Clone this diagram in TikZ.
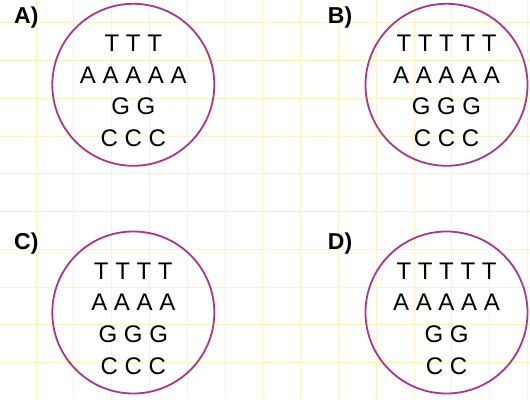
\documentclass[tikz,border=0pt]{standalone}
\usepackage{fontspec}
\setmainfont{Liberation Sans}
\definecolor{gridy}{HTML}{FFF3C4}
\definecolor{ringc}{HTML}{A8388F}
\tikzset{
  ring/.style={draw=ringc, line width=1.8pt},
  row/.style={anchor=base, inner sep=0pt, font=\fontsize{24}{24}\selectfont},
  lbl/.style={anchor=base west, inner sep=0pt, font=\fontsize{23}{23}\selectfont\bfseries},
}
\begin{document}
\begin{tikzpicture}[x=1pt,y=1pt]
\useasboundingbox (0,0) rectangle (530,399);
\fill[white] (0,0) rectangle (530,399);
\foreach \k in {0,...,13} {
  \draw[gridy, line width=1pt] ({36+37.8*\k},0) -- ({36+37.8*\k},399);
}
\foreach \k in {0,...,10} {
  \draw[gridy, line width=1pt] (0,{399-23-37.75*\k}) -- (530,{399-23-37.75*\k});
}
% circles
\node[ring, circle, minimum size=162pt, inner sep=0pt] (ca) at (133.3,314.2) {};
\node[ring, circle, minimum size=162pt, inner sep=0pt] (cb) at (446.5,314.2) {};
\node[ring, circle, minimum size=162pt, inner sep=0pt] (cc) at (133.3,86.5) {};
\node[ring, circle, minimum size=162pt, inner sep=0pt] (cd) at (446.5,86.5) {};
% labels
\node[lbl] (la) at (14,375.7) {A)};
\node[lbl] (lb) at (327.7,375.7) {B)};
\node[lbl] (lc) at (14,149) {C)};
\node[lbl] (ld) at (327.7,149) {D)};
% A
\node[row] (a1) at ([yshift=33.1pt]ca.center) {T T T};
\node[row] (a2) at ([yshift=1.5pt]ca.center) {A A A A A};
\node[row] (a3) at ([yshift=-30.2pt]ca.center) {G G};
\node[row] (a4) at ([yshift=-61.9pt]ca.center) {C C C};
% B
\node[row] (b1) at ([yshift=33.1pt]cb.center) {T T T T T};
\node[row] (b2) at ([yshift=1.5pt]cb.center) {A A A A A};
\node[row] (b3) at ([yshift=-30.2pt]cb.center) {G G G};
\node[row] (b4) at ([yshift=-61.9pt]cb.center) {C C C};
% C
\node[row] (c1) at ([yshift=33.1pt]cc.center) {T T T T};
\node[row] (c2) at ([yshift=1.5pt]cc.center) {A A A A};
\node[row] (c3) at ([yshift=-30.2pt]cc.center) {G G G};
\node[row] (c4) at ([yshift=-61.9pt]cc.center) {C C C};
% D
\node[row] (d1) at ([yshift=33.1pt]cd.center) {T T T T T};
\node[row] (d2) at ([yshift=1.5pt]cd.center) {A A A A A};
\node[row] (d3) at ([yshift=-30.2pt]cd.center) {G G};
\node[row] (d4) at ([yshift=-61.9pt]cd.center) {C C};
\end{tikzpicture}
\end{document}
